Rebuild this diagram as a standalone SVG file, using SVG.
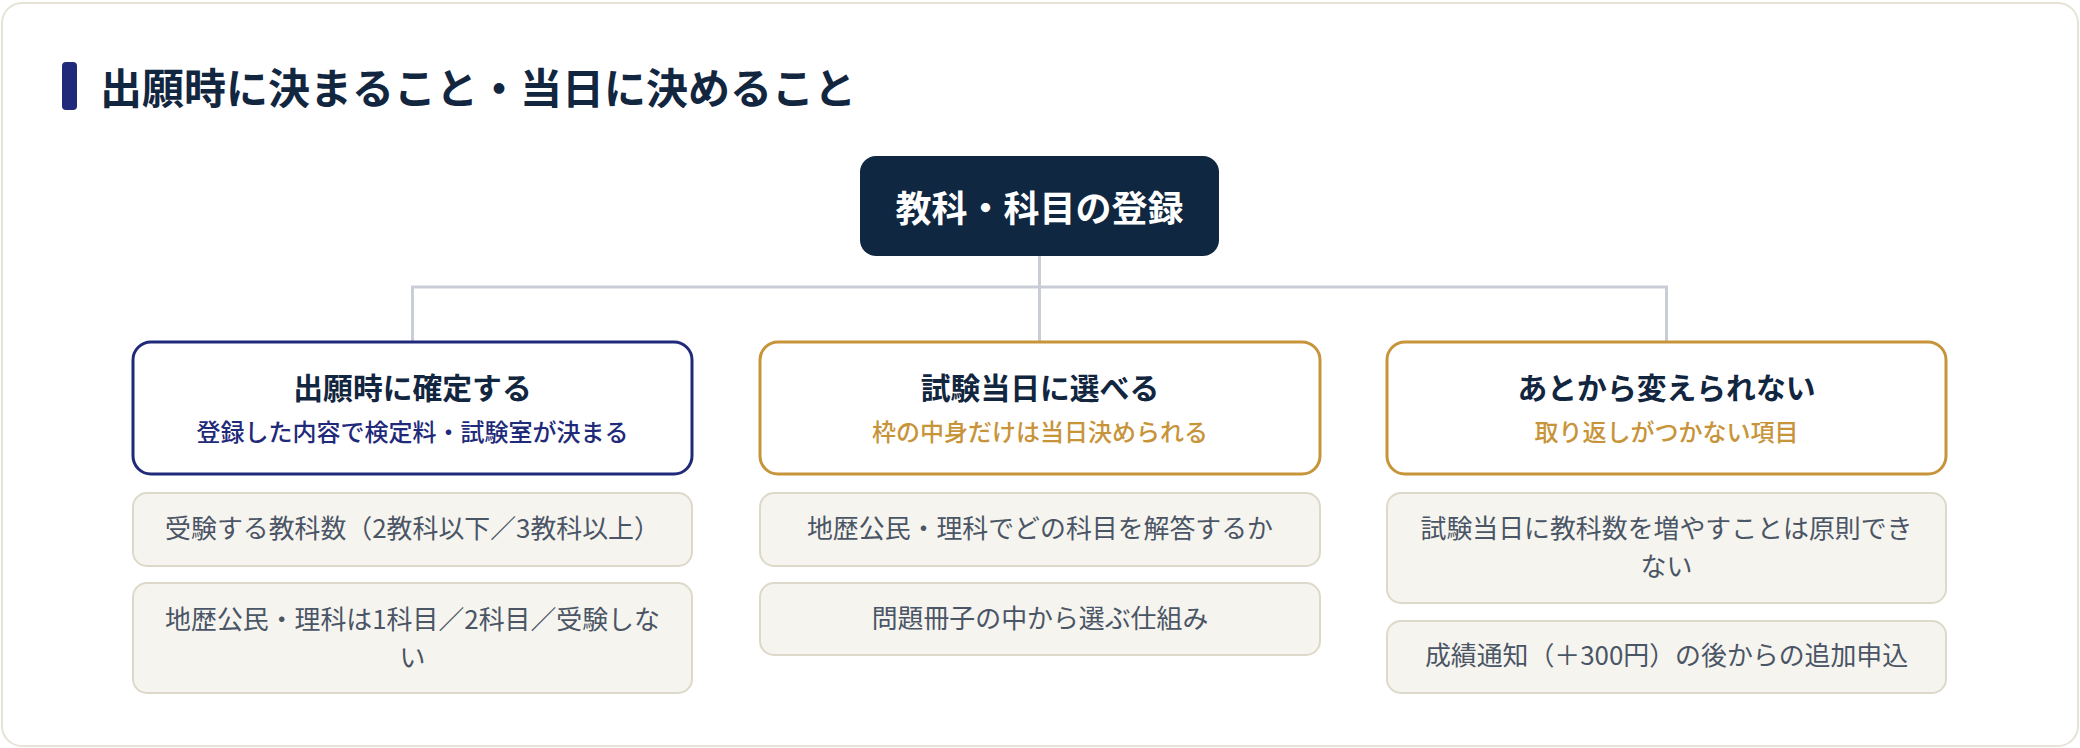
<svg xmlns="http://www.w3.org/2000/svg" width="2080" height="748" viewBox="0 0 2080 748">
  <style>
    .jp { font-family: "Noto Sans CJK JP", "Noto Sans", sans-serif; }
    .title { font-size: 42px; font-weight: 700; fill: #12263f; }
    .root-text { font-size: 36px; font-weight: 700; fill: #ffffff; text-anchor: middle; }
    .cat-box { fill: #ffffff; stroke-width: 3; }
    .cat-navy { stroke: #1f2a7a; }
    .cat-gold { stroke: #c8943a; }
    .cat-title { font-size: 29.8px; font-weight: 700; fill: #12263f; text-anchor: middle; }
    .cat-sub { font-size: 24px; font-weight: 500; text-anchor: middle; }
    .sub-navy { fill: #1f2a7a; }
    .sub-gold { fill: #c8943a; }
    .item-box { fill: #f6f4ee; stroke: #ddd9ca; stroke-width: 2; }
    .item-text { font-size: 25.9px; font-weight: 400; fill: #4a5566; text-anchor: middle; }
    .conn { fill: none; stroke: #c8cdd6; stroke-width: 3; }
  </style>
  <rect x="0" y="0" width="2080" height="748" fill="#ffffff"/>
  <rect x="2" y="3" width="2076" height="743" rx="20" fill="#ffffff" stroke="#e6e3d6" stroke-width="2"/>

  <g id="heading">
    <rect x="62" y="62" width="15" height="48" rx="4" fill="#1f2a7a"/>
    <text class="jp title" x="100" y="104">出願時に決まること・当日に決めること</text>
  </g>

  <g id="connectors">
    <path class="conn" d="M1039.5 256 V341"/>
    <path class="conn" d="M412.5 341 V287 H1666.5 V341"/>
  </g>

  <g id="root">
    <rect x="860" y="156" width="359" height="100" rx="16" fill="#0f2740"/>
    <text class="jp root-text" x="1039.5" y="222">教科・科目の登録</text>
  </g>

  <g id="cat1">
    <rect class="cat-box cat-navy" x="133" y="342" width="559" height="132" rx="18"/>
    <text class="jp cat-title" x="412.5" y="399">出願時に確定する</text>
    <text class="jp cat-sub sub-navy" x="412.5" y="441">登録した内容で検定料・試験室が決まる</text>
  </g>
  <g id="cat2">
    <rect class="cat-box cat-gold" x="760" y="342" width="560" height="132" rx="18"/>
    <text class="jp cat-title" x="1040" y="399">試験当日に選べる</text>
    <text class="jp cat-sub sub-gold" x="1040" y="441">枠の中身だけは当日決められる</text>
  </g>
  <g id="cat3">
    <rect class="cat-box cat-gold" x="1387" y="342" width="559" height="132" rx="18"/>
    <text class="jp cat-title" x="1666.5" y="399">あとから変えられない</text>
    <text class="jp cat-sub sub-gold" x="1666.5" y="441">取り返しがつかない項目</text>
  </g>

  <g id="item1a">
    <rect class="item-box" x="133" y="493" width="559" height="73" rx="14"/>
    <text class="jp item-text" x="412.5" y="538">受験する教科数（2教科以下／3教科以上）</text>
  </g>
  <g id="item1b">
    <rect class="item-box" x="133" y="583" width="559" height="110" rx="14"/>
    <text class="jp item-text" x="412.5" y="629">地歴公民・理科は1科目／2科目／受験しな</text>
    <text class="jp item-text" x="412.5" y="667">い</text>
  </g>
  <g id="item2a">
    <rect class="item-box" x="760" y="493" width="560" height="73" rx="14"/>
    <text class="jp item-text" x="1040" y="538">地歴公民・理科でどの科目を解答するか</text>
  </g>
  <g id="item2b">
    <rect class="item-box" x="760" y="583" width="560" height="72" rx="14"/>
    <text class="jp item-text" x="1040" y="628">問題冊子の中から選ぶ仕組み</text>
  </g>
  <g id="item3a">
    <rect class="item-box" x="1387" y="493" width="559" height="110" rx="14"/>
    <text class="jp item-text" x="1666.5" y="538">試験当日に教科数を増やすことは原則でき</text>
    <text class="jp item-text" x="1666.5" y="576">ない</text>
  </g>
  <g id="item3b">
    <rect class="item-box" x="1387" y="621" width="559" height="72" rx="14"/>
    <text class="jp item-text" x="1666.5" y="665">成績通知（＋300円）の後からの追加申込</text>
  </g>
</svg>
